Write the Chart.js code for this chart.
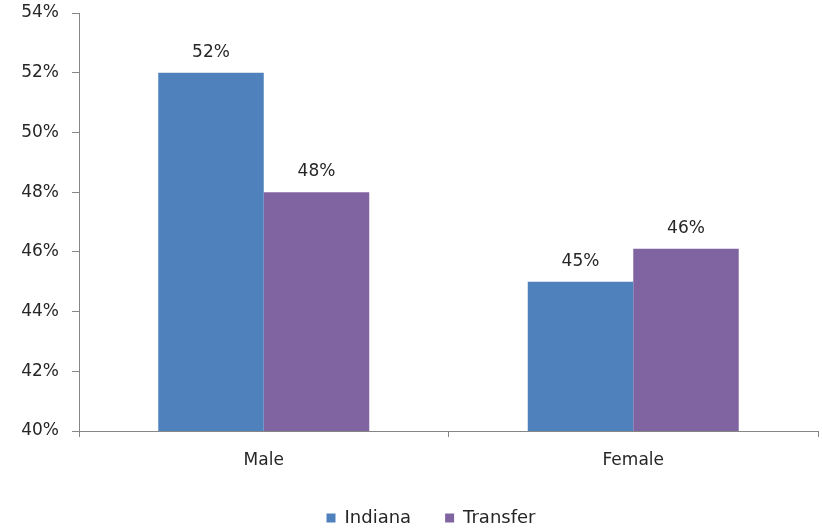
<!DOCTYPE html>
<html>
<head>
<meta charset="utf-8">
<script src="https://cdn.jsdelivr.net/npm/chart.js@4"></script>
<style>
  html, body { margin: 0; padding: 0; background: #fff; }
  #wrap { width: 822px; height: 530px; }
</style>
</head>
<body>
<div id="wrap"><canvas id="bar-chart" width="822" height="530"></canvas></div>
<script>
const categories = ["Male", "Female"];
const indiana = [52.0, 45.0];
const transfer = [48.0, 46.1];
const yMin = 40;
const yMax = 54;
const yStep = 2;

const barLabels = {
    id: "barLabels",
    afterDatasetsDraw(chart) {
        const ctx = chart.ctx;
        ctx.save();
        ctx.font = "17px 'DejaVu Sans'";
        ctx.fillStyle = "#262626";
        ctx.textAlign = "center";
        ctx.textBaseline = "bottom";
        chart.data.datasets.forEach((ds, i) => {
            chart.getDatasetMeta(i).data.forEach((bar, j) => {
                ctx.fillText(Math.round(ds.data[j]) + "%", bar.x, bar.y - 12);
            });
        });
        ctx.restore();
    }
};

// nudge the legend a bit right, like the original
const legendShift = {
    id: "legendShift",
    afterLayout(chart) {
        chart.legend.left += 22;
        chart.legend.right += 22;
    }
};

Chart.defaults.font.family = "'DejaVu Sans'";
Chart.defaults.font.size = 17;
Chart.defaults.color = "#262626";

new Chart(document.getElementById("bar-chart"), {
    type: 'bar',
    data: {
        labels: categories,
        datasets: [
            {
                label: "Indiana",
                data: indiana,
                backgroundColor: "#4F81BD",
                categoryPercentage: 0.571,
                barPercentage: 1.0
            },
            {
                label: "Transfer",
                data: transfer,
                backgroundColor: "#8064A2",
                categoryPercentage: 0.571,
                barPercentage: 1.0
            }
        ]
    },
    options: {
        responsive: false,
        animation: false,
        layout: {
            padding: { top: 13, right: 4, left: 0, bottom: 0 }
        },
        scales: {
            x: {
                grid: {
                    drawOnChartArea: false,
                    color: "#868686",
                    tickLength: 6
                },
                border: { color: "#868686", width: 1 },
                ticks: { padding: 13 },
                afterFit(scale) {
                    scale.height = 44;
                    scale.paddingLeft = 0;
                    scale.paddingRight = 0;
                }
            },
            y: {
                min: yMin,
                max: yMax,
                grid: {
                    drawOnChartArea: false,
                    color: "#868686",
                    tickLength: 7
                },
                border: { color: "#868686", width: 1 },
                ticks: {
                    stepSize: yStep,
                    padding: 13,
                    callback: v => v + "%"
                },
                afterFit(scale) {
                    scale.width = 79;
                    scale.paddingTop = 0;
                    scale.paddingBottom = 0;
                }
            }
        },
        plugins: {
            legend: {
                position: "bottom",
                maxHeight: 55,
                labels: {
                    boxWidth: 9,
                    boxHeight: 9,
                    padding: 34,
                    font: { size: 18 }
                }
            },
            tooltip: { enabled: false }
        }
    },
    plugins: [barLabels, legendShift]
});
</script>
</body>
</html>
